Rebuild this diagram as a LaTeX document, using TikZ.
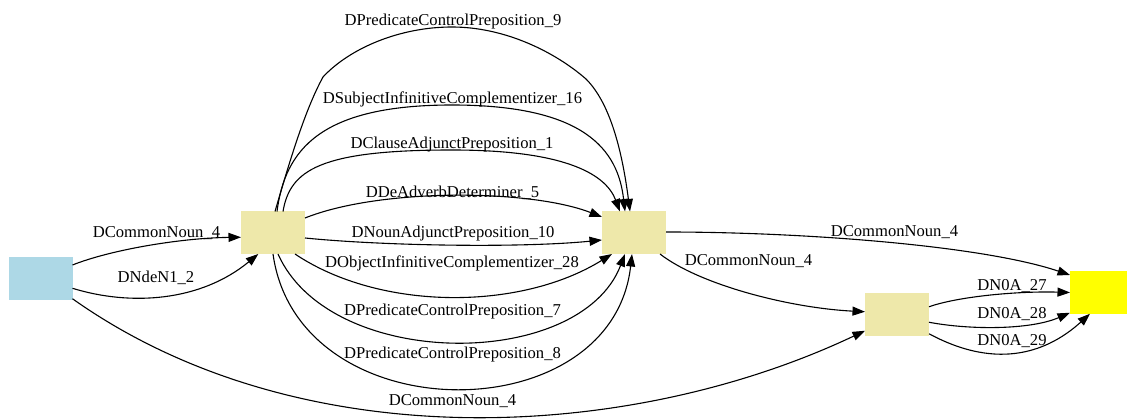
\documentclass[tikz,border=0pt]{standalone}
\usepackage{fontspec}
\setmainfont{Liberation Serif}
\usetikzlibrary{arrows.meta,calc}
\definecolor{lb}{HTML}{ADD8E6}
\definecolor{pg}{HTML}{EEE8AA}
\definecolor{yl}{HTML}{FFFF00}
\begin{document}
\begin{tikzpicture}[x=1pt,y=-1pt,
  box/.style={draw=none,minimum width=64pt,minimum height=42.5pt,inner sep=0pt,outer sep=0pt},
  lbl/.style={font=\fontsize{16.6}{20}\selectfont,inner sep=0pt,anchor=base},
  conn/.style={line width=1.1pt,-{Triangle[length=12.5pt,width=9pt]}}]
\useasboundingbox (0,0) rectangle (1127,419);
% nodes
\node[box,fill=lb] (A) at (40.5,278.5) {};
\node[box,fill=pg] (B) at (273,232.75) {};
\node[box,fill=pg] (C) at (634,232.75) {};
\node[box,fill=pg] (D) at (897,314.75) {};
\node[box,fill=yl] (E) at (1102,292.5) {};
% edges A
\draw[conn] ($(A.east)+(0,-13.5)$) .. controls (110,250) and (180,238) .. ($(B.west)+(0,4.5)$);
\draw[conn] ($(A.east)+(0,9.8)$) .. controls (130,306) and (200,302) .. ($(B.south)+(-14.7,0)$);
\draw[conn] ($(A.south east)+(0,-1)$) .. controls (300,460) and (630,442) .. ($(D.west)+(0,16)$);
% edges B -> C
\draw[conn] ($(B.north)+(2,0)$) .. controls (290,160) and (305,110) .. (323,77)
  .. controls (350,48) and (400,27) .. (452,27)
  .. controls (505,27) and (555,52) .. (586,79)
  .. controls (610,103) and (622,150) .. ($(C.north)+(-4,0)$);
\draw[conn] ($(B.north)+(4,0)$) .. controls (285,150) and (320,105) .. (452,105)
  .. controls (585,105) and (618,150) .. ($(C.north)+(-9,0)$);
\draw[conn] ($(B.north)+(10,0)$) .. controls (290,170) and (320,150) .. (452,150)
  .. controls (560,150) and (605,172) .. ($(C.north)+(-14,0)$);
\draw[conn] ($(B.east)+(0,-14.75)$) .. controls (380,188) and (530,189) .. ($(C.west)+(0,-15.75)$);
\draw[conn] ($(B.east)+(0,5.25)$) .. controls (385,246) and (522,248) .. ($(C.west)+(0,7.25)$);
\draw[conn] ($(B.south)+(22,0)$) .. controls (380,311) and (520,311) .. ($(C.south)+(-22,0)$);
\draw[conn] ($(B.south)+(5,0)$) .. controls (330,371) and (580,371) .. ($(C.south)+(-9,0)$);
\draw[conn] (B.south) .. controls (298,433) and (612,433) .. ($(C.south)+(-2,0)$);
% edges C
\draw[conn] ($(C.east)+(0,-0.75)$) .. controls (800,232) and (980,245) .. ($(E.west)+(0,-17.5)$);
\draw[conn] ($(C.south)+(26,0)$) .. controls (700,285) and (790,308) .. ($(D.west)+(0,-3)$);
% edges D -> E
\draw[conn] ($(D.east)+(0,-8)$) .. controls (960,296) and (1020,291) .. (E.west);
\draw[conn] ($(D.east)+(0,7.5)$) .. controls (970,330) and (1030,330) .. ($(E.south west)+(0,-1)$);
\draw[conn] ($(D.east)+(0,19)$) .. controls (1000,372) and (1050,350) .. ($(E.south)+(-12,0)$);
% labels
\node[lbl] (l1) at (156.5,238) {DCommonNoun\_4};
\node[lbl] (l2) at (156,283) {DNdeN1\_2};
\node[lbl] (l3) at (452.5,406) {DCommonNoun\_4};
\node[lbl] (l4) at (453,26) {DPredicateControlPreposition\_9};
\node[lbl] (l5) at (452.5,104) {DSubjectInfinitiveComplementizer\_16};
\node[lbl] (l6) at (452,149) {DClauseAdjunctPreposition\_1};
\node[lbl] (l7) at (452.5,198) {DDeAdverbDeterminer\_5};
\node[lbl] (l8) at (453,238) {DNounAdjunctPreposition\_10};
\node[lbl] (l9) at (452,268) {DObjectInfinitiveComplementizer\_28};
\node[lbl] (l10) at (452.5,316) {DPredicateControlPreposition\_7};
\node[lbl] (l11) at (452.5,359) {DPredicateControlPreposition\_8};
\node[lbl] (l12) at (894.5,237) {DCommonNoun\_4};
\node[lbl] (l13) at (748.5,266) {DCommonNoun\_4};
\node[lbl] (l14) at (1012,291) {DN0A\_27};
\node[lbl] (l15) at (1012,319) {DN0A\_28};
\node[lbl] (l16) at (1012,346) {DN0A\_29};
\end{tikzpicture}
\end{document}
